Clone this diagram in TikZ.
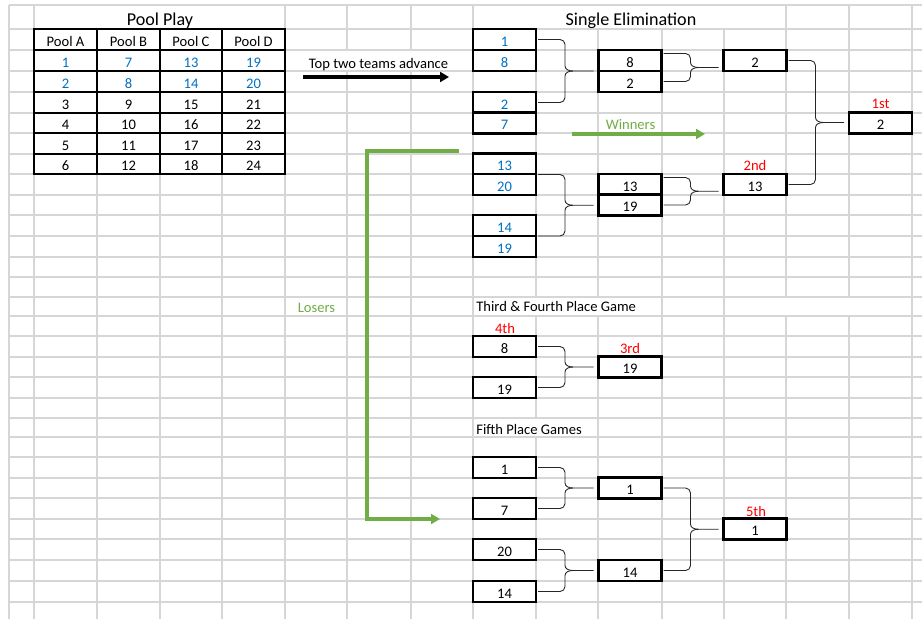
\documentclass[tikz,border=0pt]{standalone}
\usepackage{fontspec}
\setmainfont{Carlito}
\usetikzlibrary{arrows.meta,calc}

\definecolor{seedblue}{HTML}{0070C0}
\definecolor{flowgreen}{HTML}{70AD47}
\definecolor{placered}{HTML}{FF0000}
\definecolor{sheetgrid}{HTML}{D6D6D6}

\tikzset{
  sheet/.style={draw=sheetgrid, line width=0.6pt},
  slot/.style={draw, line width=1.3pt, fill=white, minimum width=1.26cm, minimum height=0.42cm,
    inner sep=0pt, outer sep=0pt, text height=7.4pt, text depth=0pt, font=\fontsize{8.3}{10}\selectfont},
  cell/.style={inner sep=0pt, text height=7.4pt, text depth=0pt, font=\fontsize{8.3}{10}\selectfont},
  note/.style={inner sep=0pt, font=\fontsize{8.3}{10}\selectfont},
  placetag/.style={inner sep=0pt, text=placered, font=\fontsize{8.3}{10}\selectfont},
  heading/.style={inner sep=0pt, anchor=base, font=\fontsize{10.3}{12}\selectfont},
  bracket/.style={draw=black!85, line width=0.5pt},
  flow/.style={line width=1.8pt, -{Triangle[length=5pt,width=5.5pt]}},
}

% curly bracket joining two slots into the next one
\newcommand{\seedbrace}[3]{%
  \coordinate (bt0) at (#1);
  \coordinate (bb0) at (#2);
  \coordinate (bt) at ($(bt0)+(2,0)$);
  \coordinate (bb) at ($(bb0)+(2,0)$);
  \coordinate (bm) at ($(bt)!0.5!(bb)$);
  \coordinate (bc) at ($(bm)+(27,0)$);
  \coordinate (bx) at (bc -| #3.west);
  \draw[bracket] (bt) -- ++(22,0) to[out=0,in=90] ++(5,5) -- ($(bc)+(0,-5)$)
    to[out=-90,in=180] ($(bc)+(8,0)$) -- ($(bx)+(-5,0)$);
  \draw[bracket] (bb) -- ++(22,0) to[out=0,in=-90] ++(5,-5) -- ($(bc)+(0,5)$)
    to[out=90,in=180] ($(bc)+(8,0)$);
}

\begin{document}
\begin{tikzpicture}[x=0.02cm, y=-0.02cm]
  \useasboundingbox (0,0) rectangle (922,619);
  \fill[white] (0,0) rectangle (922,619);

  % sheet gridlines
  \foreach \y in {5,29,50,71,92,113,133,154,174,195,215,236,257,277,297,316,336,357,377,398,418,437,457,478,498,519,539,560,581,602}
    \draw[sheet] (9,\y) -- (922,\y);
  \foreach \x in {9,34,285,473,912}
    \draw[sheet] (\x,5) -- (\x,619);
  \foreach \x in {97,160,222,662,724}
    \draw[sheet] (\x,29) -- (\x,619);
  \foreach \x in {347,411}
    \draw[sheet] (\x,5) -- (\x,50) (\x,71) -- (\x,619);
  \foreach \x in {786,849}
    \draw[sheet] (\x,5) -- (\x,297) (\x,316) -- (\x,619);
  \draw[sheet] (598,29) -- (598,297) (598,316) -- (598,619);
  \draw[sheet] (536,29) -- (536,297) (536,316) -- (536,418) (536,437) -- (536,619);

  % titles
  \node[heading] (pooltitle) at (160,25) {Pool Play};
  \node[heading] (elimtitle) at (631,25) {Single Elimination};

  % pool table
  \draw[line width=1.1pt] (34,29) rectangle (285,174);
  \foreach \x in {97,160,222}
    \draw[line width=0.8pt] (\x,29) -- (\x,174);
  \foreach \y in {50,71,92,113,133,154}
    \draw[line width=0.6pt] (34,\y) -- (285,\y);
  \foreach \pool/\xc [count=\i from 0] in {A/65.5,B/128.5,C/191,D/253.5} {
    \node[cell] (pool\pool) at (\xc,39.5) {Pool \pool};
    \foreach \r/\yc in {1/60.5,2/81.5,3/102.5,4/123,5/143.5,6/164} {
      \pgfmathtruncatemacro{\seed}{6*\i+\r}
      \ifnum\r<3 \def\tint{seedblue}\else\def\tint{black}\fi
      \node[cell, text=\tint] (seed\seed) at (\xc,\yc) {\seed};
    }
  }

  % arrows between the stages
  \coordinate (adv0) at (303,77);
  \coordinate (adv1) at (449,77);
  \draw[flow] (adv0) -- (adv1);
  \node[note, anchor=base] (advtext) at (378.5,68) {Top two teams advance};

  \coordinate (win0) at (572,134);
  \coordinate (win1) at (705,134);
  \draw[flow, flowgreen] (win0) -- (win1);
  \node[note, anchor=base, text=flowgreen] (wintext) at (630.5,129.5) {Winners};

  \coordinate (lose0) at (459,151);
  \coordinate (losecorner) at (367,519);
  \coordinate (lose1) at (440,519);
  \draw[flow, flowgreen] (lose0) -| (losecorner) -- (lose1);
  \node[note, anchor=base, text=flowgreen] (losetext) at (316.5,312.5) {Losers};

  % single elimination
  \node[slot, text=seedblue] (w1a) at (504.5,39.5) {1};
  \node[slot, text=seedblue] (w1b) at (504.5,60.5) {8};
  \node[slot, text=seedblue] (w2a) at (504.5,102.5) {2};
  \node[slot, text=seedblue] (w2b) at (504.5,123) {7};
  \node[slot, text=seedblue] (w3a) at (504.5,164) {13};
  \node[slot, text=seedblue] (w3b) at (504.5,184.5) {20};
  \node[slot, text=seedblue] (w4a) at (504.5,225.5) {14};
  \node[slot, text=seedblue] (w4b) at (504.5,246.5) {19};

  \node[slot] (s1a) at (630,60.5) {8};
  \node[slot] (s1b) at (630,81.5) {2};
  \node[slot] (s2a) at (630,184.5) {13};
  \node[slot] (s2b) at (630,205) {19};

  \node[slot] (f1) at (755,60.5) {2};
  \node[slot] (f2) at (755,184.5) {13};
  \node[slot] (champ) at (880.5,123) {2};

  \node[placetag] (tag1) at (880.5,104) {1st};
  \node[placetag] (tag2) at (755,165) {2nd};

  \seedbrace{w1a.east}{w2a.east}{s1a}
  \seedbrace{w3a.south east}{w4a.south east}{s2a}
  \seedbrace{$(s1a.east)+(0,-7)$}{s1b.east}{f1}
  \seedbrace{$(s2a.east)+(0,-7)$}{s2b.east}{f2}
  \seedbrace{f1.east}{f2.east}{champ}

  % third and fourth place
  \node[note, anchor=base west] (thirdtitle) at (476,311.5) {Third \& Fourth Place Game};
  \node[slot] (t1) at (504.5,346.5) {8};
  \node[slot] (t2) at (504.5,387.5) {19};
  \node[slot] (third) at (630,367) {19};
  \node[placetag] (tag4) at (505,328) {4th};
  \node[placetag] (tag3) at (630,348) {3rd};
  \seedbrace{t1.east}{t2.east}{third}

  % fifth place
  \node[note, anchor=base west] (fifthtitle) at (476,434) {Fifth Place Games};
  \node[slot] (v1) at (504.5,467.5) {1};
  \node[slot] (v2) at (504.5,508.5) {7};
  \node[slot] (v3) at (504.5,549.5) {20};
  \node[slot] (v4) at (504.5,591.5) {14};
  \node[slot] (v5) at (630,488) {1};
  \node[slot] (v6) at (630,570.5) {14};
  \node[slot] (fifth) at (755,529) {1};
  \node[placetag] (tag5) at (756,511) {5th};
  \seedbrace{v1.east}{v2.east}{v5}
  \seedbrace{v3.east}{v4.east}{v6}
  \seedbrace{v5.east}{v6.east}{fifth}
\end{tikzpicture}
\end{document}
